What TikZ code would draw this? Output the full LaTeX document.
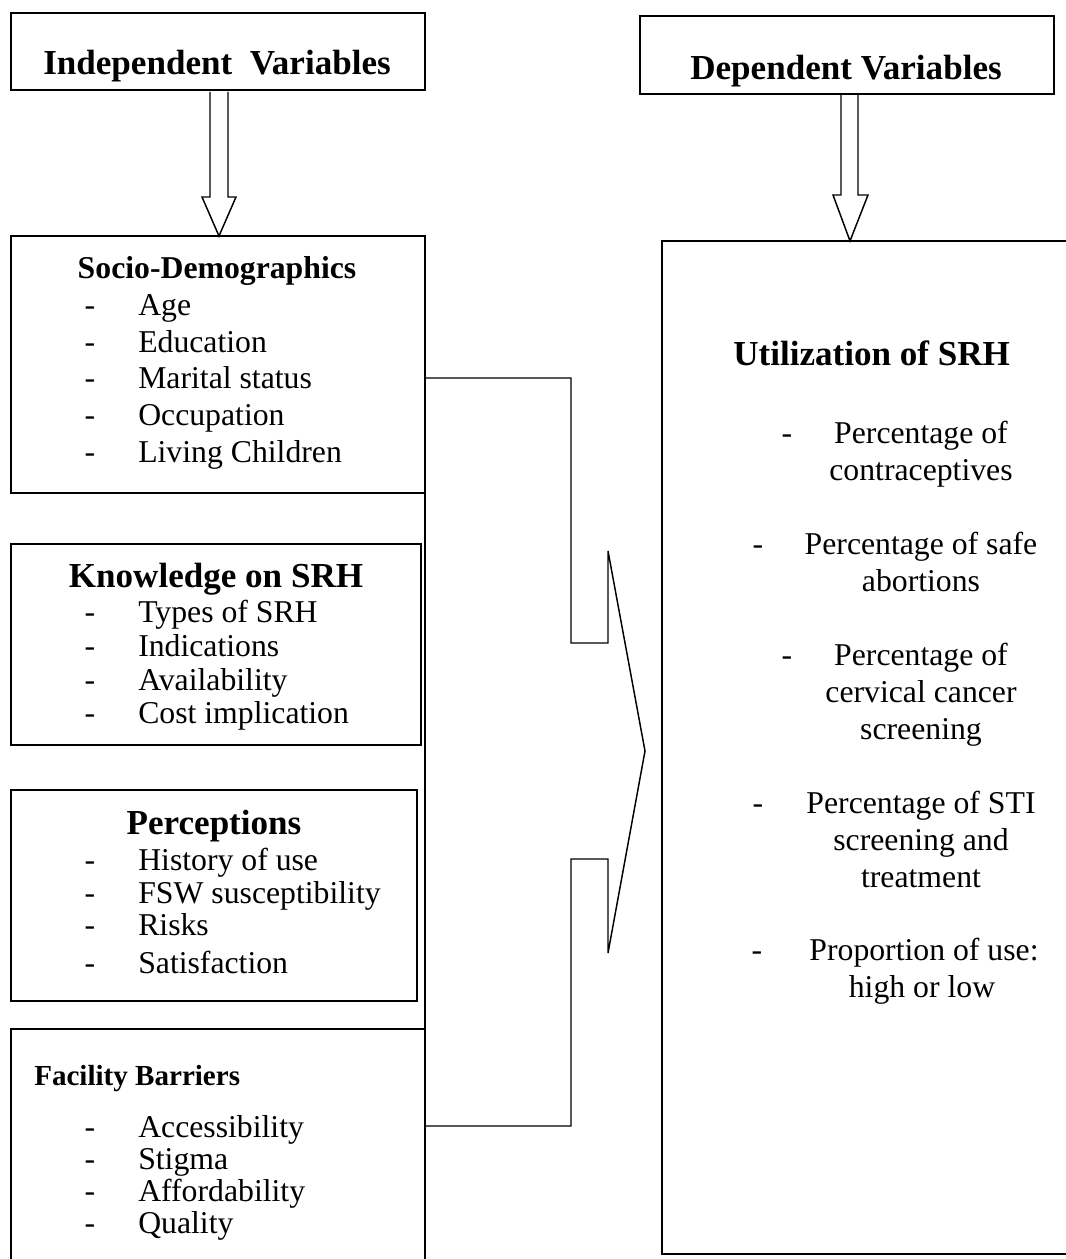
\documentclass[tikz,border=0pt]{standalone}
\usepackage{fontspec}
\setmainfont{Liberation Serif}
\usetikzlibrary{fit,calc}
\begin{document}
\begin{tikzpicture}[x=0.75pt,y=-0.75pt,
  box/.style={draw, line width=1.4pt, inner sep=0pt, outer sep=0pt},
  link/.style={line width=1.1pt, line join=miter},
  blockarrow/.style={draw, line width=1.1pt},
  body/.style={font=\fontsize{23.8}{28}\selectfont, inner sep=0pt},
  item/.style={body, anchor=base west},
  dashmark/.style={body, anchor=base},
  ritem/.style={body, anchor=base},
  head/.style={font=\fontsize{26.3}{30}\selectfont\bfseries, anchor=base, inner sep=0pt}]
\useasboundingbox (0,0) rectangle (1066,1259);
\clip (0,0) rectangle (1066,1259);

% boxes
\coordinate (iv1) at (11,13);   \coordinate (iv2) at (425,90);
\node[box, fit=(iv1)(iv2)] (indep) {};
\coordinate (dv1) at (640,16);  \coordinate (dv2) at (1054,94);
\node[box, fit=(dv1)(dv2)] (dep) {};
\coordinate (r1) at (662,241);  \coordinate (r2) at (1080,1254);
\node[box, fit=(r1)(r2)] (res) {};
\coordinate (s1) at (11,236);   \coordinate (s2) at (425,493);
\node[box, fit=(s1)(s2)] (socio) {};
\coordinate (k1) at (11,544);   \coordinate (k2) at (421,745);
\node[box, fit=(k1)(k2)] (know) {};
\coordinate (p1) at (11,790);   \coordinate (p2) at (417,1001);
\node[box, fit=(p1)(p2)] (perc) {};
\coordinate (f1) at (11,1029);  \coordinate (f2) at (425,1290);
\node[box, fit=(f1)(f2)] (fac) {};

% vertical spine joining the left boxes
\draw[line width=1.4pt] (socio.south east) -- (fac.north east);

% block arrows
\coordinate (ia) at ($(indep.south)+(1,0)$);
\draw[blockarrow] ($(ia)+(-9,2)$) -- ($(ia)+(-9,107)$) -- ($(ia)+(-17,107)$)
  -- (ia |- socio.north) -- ($(ia)+(17,107)$) -- ($(ia)+(9,107)$) -- ($(ia)+(9,2)$);
\coordinate (da) at ($(dep.south)+(3,0)$);
\draw[blockarrow] ($(da)+(-9,1)$) -- ($(da)+(-9,101)$) -- ($(da)+(-17,101)$)
  -- (da |- res.north) -- ($(da)+(18,101)$) -- ($(da)+(8,101)$) -- ($(da)+(8,1)$);

% bracket connector to the outcome box
\draw[link] ($(socio.north east)+(0,142)$) -- (571,378) -- (571,643) -- (608,643)
  -- (608,551) -- (645,751) -- (608,953) -- (608,859) -- (571,859) -- (571,1126)
  -- ($(fac.north east)+(0,97)$);

% headings
\node[head] (tindep) at (217,75) {Independent\hspace{0.5em}Variables};
\node[head] (tdep) at (846,80) {Dependent Variables};

% socio-demographics
\node[head, font=\fontsize{23.8}{28}\selectfont\bfseries] (tsocio) at (217,278) {Socio-Demographics};
\foreach \t/\y [count=\i] in {Age/315, Education/352, Marital status/388, Occupation/425, Living Children/462}{
  \node[dashmark] (sd\i) at (90,\y) {-};
  \node[item] (si\i) at (138,\y) {\t};
}

% knowledge
\node[head] (tknow) at (216,587) {Knowledge on SRH};
\foreach \t/\y [count=\i] in {Types of SRH/622, Indications/656, Availability/690, Cost implication/723}{
  \node[dashmark] (kd\i) at (90,\y) {-};
  \node[item] (ki\i) at (138,\y) {\t};
}

% perceptions
\node[head] (tperc) at (214,834) {Perceptions};
\foreach \t/\y [count=\i] in {History of use/870, FSW susceptibility/903, Risks/935, Satisfaction/973}{
  \node[dashmark] (pd\i) at (90,\y) {-};
  \node[item] (pi\i) at (138,\y) {\t};
}

% facility barriers
\node[font=\fontsize{21.8}{26}\selectfont\bfseries, anchor=base west, inner sep=0pt] (tfac) at (34,1085) {Facility Barriers};
\foreach \t/\y [count=\i] in {Accessibility/1137, Stigma/1169, Affordability/1201, Quality/1233}{
  \node[dashmark] (fd\i) at (90,\y) {-};
  \node[item] (fi\i) at (138,\y) {\t};
}

% outcome
\node[head, anchor=base west] (tres) at (733,365) {Utilization of SRH};
\node[dashmark] (rd1) at (787,443) {-};
\node[ritem] (ra1) at (921,443) {Percentage of};
\node[ritem] (ra2) at (921,480) {contraceptives};
\node[dashmark] (rd2) at (758,554) {-};
\node[ritem] (rb1) at (921,554) {Percentage of safe};
\node[ritem] (rb2) at (921,591) {abortions};
\node[dashmark] (rd3) at (787,665) {-};
\node[ritem] (rc1) at (921,665) {Percentage of};
\node[ritem] (rc2) at (921,702) {cervical cancer};
\node[ritem] (rc3) at (921,739) {screening};
\node[dashmark] (rd4) at (758,813) {-};
\node[ritem] (re1) at (921,813) {Percentage of STI};
\node[ritem] (re2) at (921,850) {screening and};
\node[ritem] (re3) at (921,887) {treatment};
\node[dashmark] (rd5) at (757,960) {-};
\node[ritem] (rf1) at (924,960) {Proportion of use:};
\node[ritem] (rf2) at (922,997) {high or low};
\end{tikzpicture}
\end{document}
